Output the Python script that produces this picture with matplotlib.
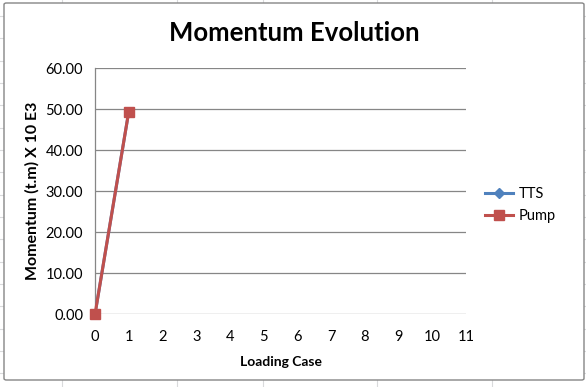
import matplotlib
matplotlib.use("Agg")
import matplotlib.pyplot as plt
from matplotlib.patches import FancyBboxPatch
from matplotlib.lines import Line2D

plt.rcParams['font.family'] = ['Lato', 'DejaVu Sans']

# Series data
loading_case = [0, 1]
tts_values = [0.0, 49.4]
pump_values = [0.0, 49.4]
x_ticks = list(range(0, 12))
y_ticks = [0, 10, 20, 30, 40, 50, 60]
y_tick_labels = [f"{v:.2f}" for v in y_ticks]

W, H = 586, 387
fig = plt.figure(figsize=(W / 100, H / 100), dpi=100)
fig.patch.set_facecolor('white')

# Worksheet cell grid behind the chart object
grid_col = '#d9dadb'
for xc in [62, 177, 263, 377, 492]:
    fig.add_artist(Line2D([xc / W, xc / W], [0, 1], color=grid_col, lw=0.8, zorder=0))
y0 = 16
while y0 < H:
    fig.add_artist(Line2D([0, 1], [1 - y0 / H, 1 - y0 / H], color=grid_col, lw=0.8, zorder=0))
    y0 += 22.33

# Chart area frame
frame = FancyBboxPatch((4 / W, 1 - 380 / H), (584 - 4) / W, (380 - 3) / H,
                       boxstyle="round,pad=0,rounding_size=0.004",
                       transform=fig.transFigure, facecolor='white',
                       edgecolor='#868686', lw=1.0, zorder=1)
fig.add_artist(frame)

ax = fig.add_axes([95 / W, 1 - 314.3 / H, (466 - 95) / W, (314.3 - 68.3) / H], zorder=2)
ax.set_facecolor('none')
ax.set_xlim(0, 11)
ax.set_ylim(0, 60)

ax.plot(loading_case, tts_values, color='#4F81BD', lw=2.2, marker='D',
        markersize=5, label='TTS', zorder=3)
ax.plot(loading_case, pump_values, color='#C0504D', lw=2.2, marker='s',
        markersize=7.5, label='Pump', zorder=4, clip_on=False)

ax.set_yticks(y_ticks)
ax.set_yticklabels(y_tick_labels)
ax.set_xticks(x_ticks)
ax.yaxis.grid(True, color='#868686', lw=0.9)
ax.set_axisbelow(True)
for s in ['top', 'right', 'bottom']:
    ax.spines[s].set_visible(False)
ax.spines['left'].set_color('#868686')
ax.spines['left'].set_linewidth(0.9)
ax.tick_params(length=0, labelsize=10.5, colors='black')
ax.tick_params(axis='x', pad=11.5)
ax.tick_params(axis='y', pad=8.5)

ax.set_xlabel('Loading Case', fontsize=10, fontweight='bold', labelpad=8.5)
ax.set_ylabel('Momentum (t.m) X 10 E3', fontsize=11.5, fontweight='bold', labelpad=4)

fig.text(294 / W, 1 - 33 / H, 'Momentum Evolution', fontsize=18.5, fontweight='bold',
         ha='center', va='center', zorder=3)

fig.legend(handles=ax.get_lines(), loc='center left',
           bbox_to_anchor=(485 / W, 1 - 205 / H), frameon=False,
           fontsize=10.5, handlelength=1.9, handletextpad=0.4,
           labelspacing=0.6, borderaxespad=0, borderpad=0)

fig.savefig('out.png', dpi=100)
